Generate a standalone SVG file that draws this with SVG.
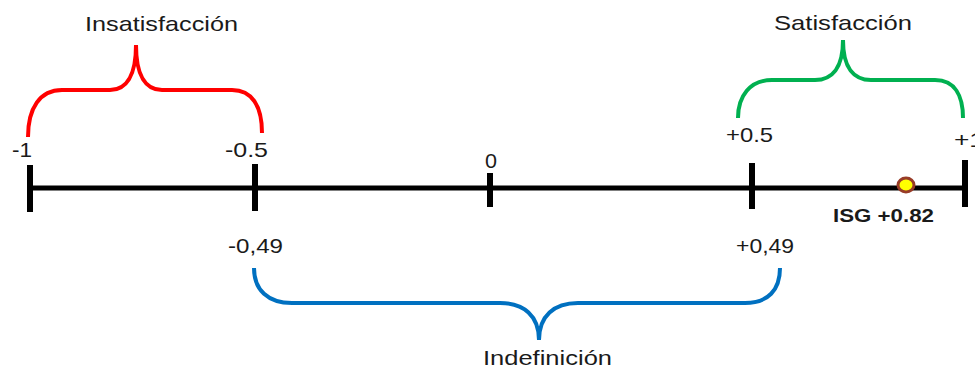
<svg xmlns="http://www.w3.org/2000/svg" width="975" height="369" viewBox="0 0 975 369">
<style>
.t{font-family:"Liberation Sans",Arial,sans-serif;font-size:21px;fill:#1a1a1a}
.b{font-weight:bold;font-size:19px}
.brace{fill:none;stroke-width:4;stroke-linecap:butt}
.tick{stroke:#000;stroke-width:6}
</style>
<rect width="975" height="369" fill="#fff"/>
<g id="connectors">
<line x1="30" y1="188" x2="965" y2="188" stroke="#000" stroke-width="5"/>
</g>
<g id="ticks">
<line class="tick" x1="30" y1="165" x2="30" y2="212"/>
<line class="tick" x1="255" y1="164" x2="255" y2="211"/>
<line class="tick" x1="490" y1="173" x2="490" y2="207"/>
<line class="tick" x1="752" y1="163" x2="752" y2="209"/>
<line class="tick" x1="965" y1="160" x2="965" y2="207"/>
</g>
<g id="insatisfaccion">
<path class="brace" stroke="#ff0000" d="M28,137 C28,108 40,90 62,90 L110,90 C126,90 136,76 136,45 C136,76 146,90 162,90 L232,90 C252,90 262,106 262,133"/>
<text class="t" x="85" y="31" textLength="153" lengthAdjust="spacingAndGlyphs">Insatisfacción</text>
</g>
<g id="satisfaccion">
<path class="brace" stroke="#00b050" d="M738,118 C738,96 750,80 772,80 L815,80 C832,80 843,68 843,40 C843,68 854,80 871,80 L935,80 C955,80 963,96 963,118"/>
<text class="t" x="774" y="30" textLength="138" lengthAdjust="spacingAndGlyphs">Satisfacción</text>
</g>
<g id="indefinicion">
<path class="brace" stroke="#0070c0" d="M254,268 C254,290 268,303 292,303 L500,303 C524,303 539,316 539,340 C539,316 554,303 578,303 L745,303 C768,303 780,290 780,268"/>
<text class="t" x="483" y="365" textLength="129" lengthAdjust="spacingAndGlyphs">Indefinición</text>
</g>
<g id="labels">
<text class="t" x="12" y="157" textLength="20" lengthAdjust="spacingAndGlyphs">-1</text>
<text class="t" x="225" y="157" textLength="43" lengthAdjust="spacingAndGlyphs">-0.5</text>
<text class="t" x="485" y="168" textLength="12" lengthAdjust="spacingAndGlyphs">0</text>
<text class="t" x="726" y="142" textLength="47" lengthAdjust="spacingAndGlyphs">+0.5</text>
<text class="t" x="954" y="147" textLength="30" lengthAdjust="spacingAndGlyphs">+1</text>
<text class="t" x="228" y="253" textLength="55" lengthAdjust="spacingAndGlyphs">-0,49</text>
<text class="t" x="736" y="253" textLength="58" lengthAdjust="spacingAndGlyphs">+0,49</text>
</g>
<g id="isg">
<ellipse cx="906" cy="185" rx="8" ry="7" fill="#ffff00" stroke="#983c28" stroke-width="3"/>
<text class="t b" x="833" y="222" textLength="101" lengthAdjust="spacingAndGlyphs">ISG +0.82</text>
</g>
</svg>
